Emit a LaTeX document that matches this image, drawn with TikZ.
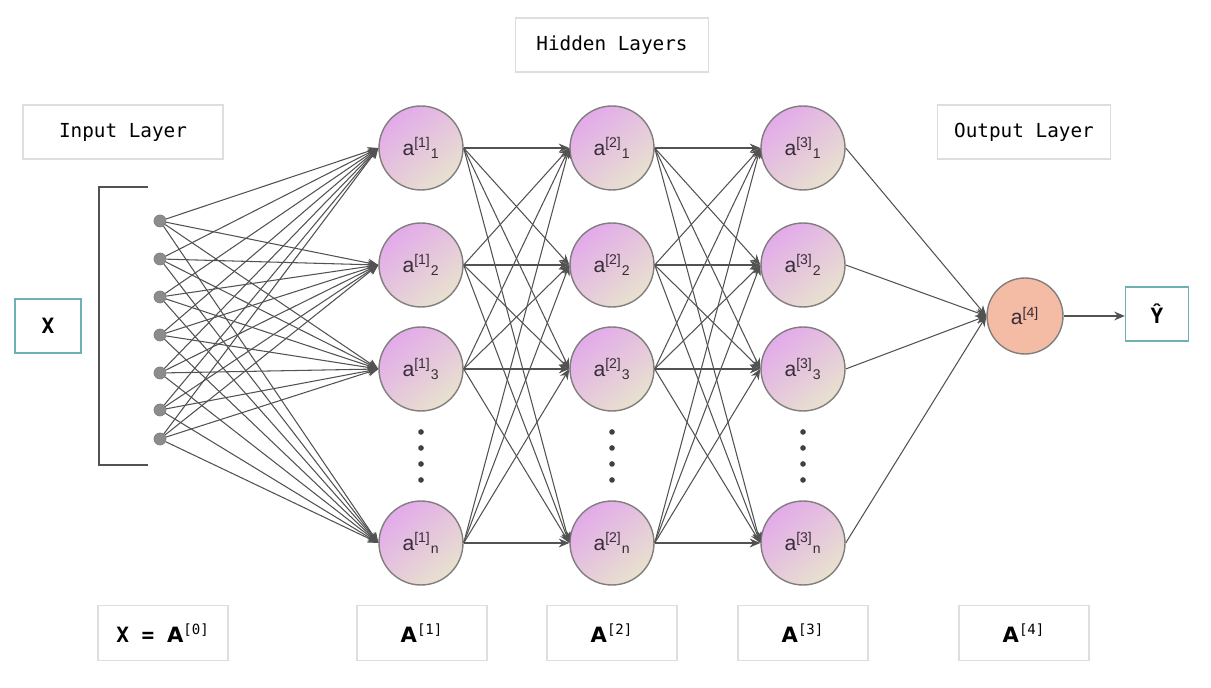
\documentclass[tikz,border=0pt]{standalone}
\usepackage{fontspec}
\usetikzlibrary{arrows.meta}
\newfontfamily\monofont{DejaVu Sans Mono}
\newfontfamily\nodefont{Liberation Sans}
\newfontfamily\labelfont{DejaVu Sans}
\definecolor{boxgray}{RGB}{222,222,222}
\definecolor{tealedge}{RGB}{112,176,178}
\definecolor{ringgray}{RGB}{130,126,126}
\definecolor{linkgray}{RGB}{82,82,82}
\definecolor{neuronpink}{RGB}{226,170,234}
\definecolor{neuronbeige}{RGB}{232,226,206}
\definecolor{outsalmon}{RGB}{245,188,165}
\definecolor{dotgray}{RGB}{140,140,140}
\definecolor{textgray}{RGB}{55,45,55}
\newcommand\actsup[1]{\textsuperscript{\monofont\mdseries[#1]}}
\begin{document}
\begin{tikzpicture}[x=0.02cm,y=-0.02cm,
    layerbox/.style={draw=boxgray,line width=0.6pt,inner sep=0pt,minimum height=1.08cm,
      font=\monofont\fontsize{11}{13}\selectfont},
    iobox/.style={layerbox,draw=tealedge,line width=0.8pt,font=\monofont\bfseries\fontsize{12}{14}\selectfont},
    namebox/.style={layerbox,minimum width=2.6cm,minimum height=1.1cm,
      font=\labelfont\bfseries\fontsize{12}{14}\selectfont},
    neuron/.style={circle,draw=ringgray,line width=0.8pt,top color=neuronpink,bottom color=neuronbeige,
      shading angle=40,minimum size=1.68cm,inner sep=0pt,text=textgray,
      font=\nodefont\fontsize{12}{14}\selectfont},
    outneuron/.style={neuron,top color=outsalmon,bottom color=outsalmon,minimum size=1.52cm},
    inputdot/.style={circle,fill=dotgray,draw=ringgray,minimum size=0.24cm,inner sep=0pt},
    link/.style={draw=linkgray,line width=0.6pt,-{Stealth[length=6pt,width=5pt]}},
    outlink/.style={draw=linkgray,line width=1.4pt,-{Stealth[length=6pt,width=5pt]}}
]
\useasboundingbox (0,0) rectangle (1211,688);

% headings
\node[layerbox,minimum width=3.86cm] (hidtitle) at (612,45) {Hidden Layers};
\node[layerbox,minimum width=4cm] (intitle) at (123,132) {Input Layer};
\node[layerbox,minimum width=3.46cm] (outtitle) at (1024,132) {Output Layer};

% input side
\node[iobox,minimum width=1.32cm] (xbox) at (48,326) {X};
\draw[linkgray,line width=0.8pt] (148,187) -- (99,187) -- (99,465) -- (148,465);
\foreach \i/\y in {1/221,2/259,3/297,4/335,5/373,6/410,7/439}
  \node[inputdot] (in\i) at (160,\y) {};

% hidden layers
\foreach \l/\x in {1/421,2/612,3/803} {
  \foreach \k/\y/\s in {1/148/1,2/265/2,3/369/3,4/543/n}
    \node[neuron] (h\l\k) at (\x,\y) {a\textsuperscript{[\l]}\textsubscript{\s}};
  \foreach \y in {432,448,464,480}
    \fill[black!75] (\x,\y) circle (1.6pt);
}

% output
\node[outneuron] (out) at (1025,316) {a\textsuperscript{[4]}};
\node[iobox,minimum width=1.26cm] (yhat) at (1157,314) {Ŷ};

% connections
\foreach \i in {1,...,7}
  \foreach \k in {1,...,4}
    \draw[link] (in\i) -- (h1\k.west);
\foreach \l/\m in {1/2,2/3}
  \foreach \i in {1,...,4}
    \foreach \k in {1,...,4}
      \draw[link] (h\l\i.east) -- (h\m\k.west);
\foreach \i in {1,...,4}
  \draw[link] (h3\i.east) -- (out.west);
\draw[outlink] (out.east) -- (out.east -| yhat.west);

% activations
\node[namebox] (act0) at (163,633) {{\monofont X = }A\actsup{0}};
\node[namebox] (act1) at (422,633) {A\actsup{1}};
\node[namebox] (act2) at (612,633) {A\actsup{2}};
\node[namebox] (act3) at (803,633) {A\actsup{3}};
\node[namebox] (act4) at (1024,633) {A\actsup{4}};

\end{tikzpicture}
\end{document}
